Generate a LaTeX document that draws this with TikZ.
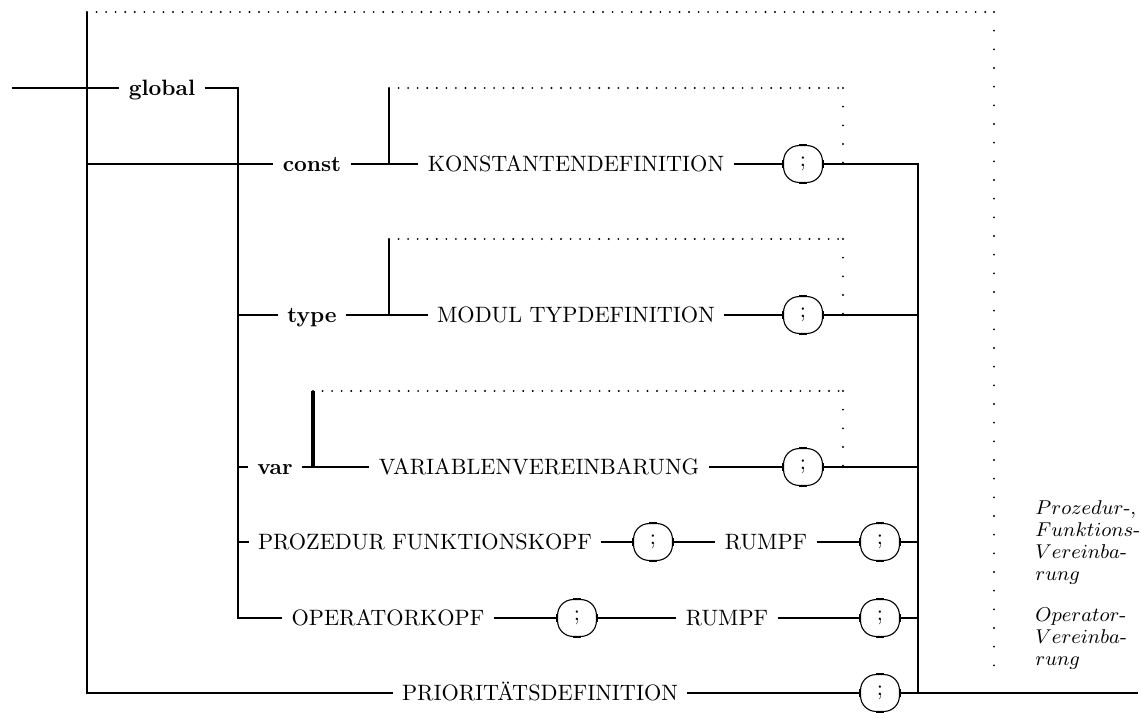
\documentclass[tikz,border=0pt]{standalone}
\usetikzlibrary{calc}
\begin{document}
\begin{tikzpicture}[x=0.45pt, y=-0.45pt, line width=1.3pt,
  word/.style={inner xsep=3.6pt, inner ysep=0pt, text height=7pt, text depth=0.7pt},
  kw/.style={word, font=\bfseries},
  semi/.style={draw, line width=0.5pt, rounded corners=7pt,
    minimum width=17.5pt, minimum height=16.6pt, inner sep=0pt},
  hdots/.style={line width=0.95pt, line cap=round, dash pattern=on 0pt off 4.3pt},
  vdots/.style={line width=0.95pt, line cap=round, dash pattern=on 0pt off 8.4pt},
  note/.style={anchor=north west, inner sep=0pt, align=left,
    font=\fontsize{9}{9.9}\selectfont}]
  \useasboundingbox (0,0) rectangle (1141,713);
  % Gerueste: linke Schiene, Verteiler, rechte Sammelschiene
  \coordinate (in)  at (12,88);
  \coordinate (L0)  at (87,12);
  \coordinate (L1)  at (87,693);
  \coordinate (G0)  at (238,88);
  \coordinate (R0)  at (918,164);
  \coordinate (R1)  at (918,693);
  \coordinate (out) at (1138,693);
  \coordinate (T0)  at (994,12);
  \coordinate (T1)  at (994,680);
  % Schleifen
  \coordinate (k1) at (389,88);  \coordinate (k2) at (843,88);
  \coordinate (t1) at (389,239); \coordinate (t2) at (843,239);
  \coordinate (v1) at (313,391); \coordinate (v2) at (843,391);

  \node[kw]   (glob)   at (162,88)  {global};
  \node[kw]   (const)  at (312,164) {const};
  \node[word] (kdef)   at (576,164) {KONSTANTENDEFINITION};
  \node[semi] (s1)     at (803,164) {;};
  \node[kw]   (type)   at (312,315) {type};
  \node[word] (tdef)   at (576,315) {MODUL TYPDEFINITION};
  \node[semi] (s2)     at (803,315) {;};
  \node[kw]   (var)    at (275,467) {var};
  \node[word] (vdef)   at (539,467) {VARIABLENVEREINBARUNG};
  \node[semi] (s3)     at (803,467) {;};
  \node[word] (pkopf)  at (425,542) {PROZEDUR FUNKTIONSKOPF};
  \node[semi] (s4)     at (653,542) {;};
  \node[word] (prumpf) at (766,542) {RUMPF};
  \node[semi] (s5)     at (880,542) {;};
  \node[word] (okopf)  at (388,618) {OPERATORKOPF};
  \node[semi] (s6)     at (577,618) {;};
  \node[word] (orumpf) at (727,618) {RUMPF};
  \node[semi] (s7)     at (880,618) {;};
  \node[word] (prio)   at (540,693) {PRIORIT\"ATSDEFINITION};
  \node[semi] (s8)     at (880,693) {;};

  \node[note] (pnote) at (1034,499) {$Prozedur$-,\\$Funktions$-\\$Vereinba$-\\$rung$};
  \node[note] (onote) at (1034,606) {$Operator$-\\$Vereinba$-\\$rung$};

  \draw (in) -- (glob.west);
  \draw (glob.east) -- (G0) -- (G0 |- okopf) -- (okopf.west);
  \draw (L0) -- (L1) -- (prio.west);
  \draw (L0 |- const) -- (const.west);
  \draw (const.east) -- (kdef.west);
  \draw (kdef.east) -- (s1.west);
  \draw (s1.east) -- (R0) -- (R1);
  \draw (G0 |- type) -- (type.west);
  \draw (type.east) -- (tdef.west);
  \draw (tdef.east) -- (s2.west);
  \draw (s2.east) -- (s2 -| R0);
  \draw (G0 |- var) -- (var.west);
  \draw (var.east) -- (vdef.west);
  \draw (vdef.east) -- (s3.west);
  \draw (s3.east) -- (s3 -| R0);
  \draw (G0 |- pkopf) -- (pkopf.west);
  \draw (pkopf.east) -- (s4.west);
  \draw (s4.east) -- (prumpf.west);
  \draw (prumpf.east) -- (s5.west);
  \draw (s5.east) -- (s5 -| R0);
  \draw (okopf.east) -- (s6.west);
  \draw (s6.east) -- (orumpf.west);
  \draw (orumpf.east) -- (s7.west);
  \draw (s7.east) -- (s7 -| R0);
  \draw (prio.east) -- (s8.west);
  \draw (s8.east) -- (out);
  % Rueckwege
  \draw (k1 |- const) -- (k1);
  \draw (t1 |- type) -- (t1);
  \draw[line width=1.7pt] (v1 |- var) -- (v1);
  \draw[hdots] (k1) -- (k2);
  \draw[vdots] (k2) -- (k2 |- s1);
  \draw[hdots] (t1) -- (t2);
  \draw[vdots] (t2) -- (t2 |- s2);
  \draw[hdots] (v1) -- (v2);
  \draw[vdots] (v2) -- (v2 |- s3);
  \draw[hdots] (L0) -- (T0);
  \draw[vdots] (T0) -- (T1);
  % Verdickungen an den Ovalen
  \foreach \s in {s1,s2,s3,s4,s5,s6,s7,s8} {
    \draw[line width=1pt] ([xshift=-1.6pt]\s.north) -- ([xshift=1.6pt]\s.north);
    \draw[line width=1pt] ([xshift=-1.6pt]\s.south) -- ([xshift=1.6pt]\s.south);
    \draw[line width=1pt] ([yshift=-1.6pt]\s.west) -- ([yshift=1.6pt]\s.west);
    \draw[line width=1pt] ([yshift=-1.6pt]\s.east) -- ([yshift=1.6pt]\s.east);
  }
\end{tikzpicture}
\end{document}
